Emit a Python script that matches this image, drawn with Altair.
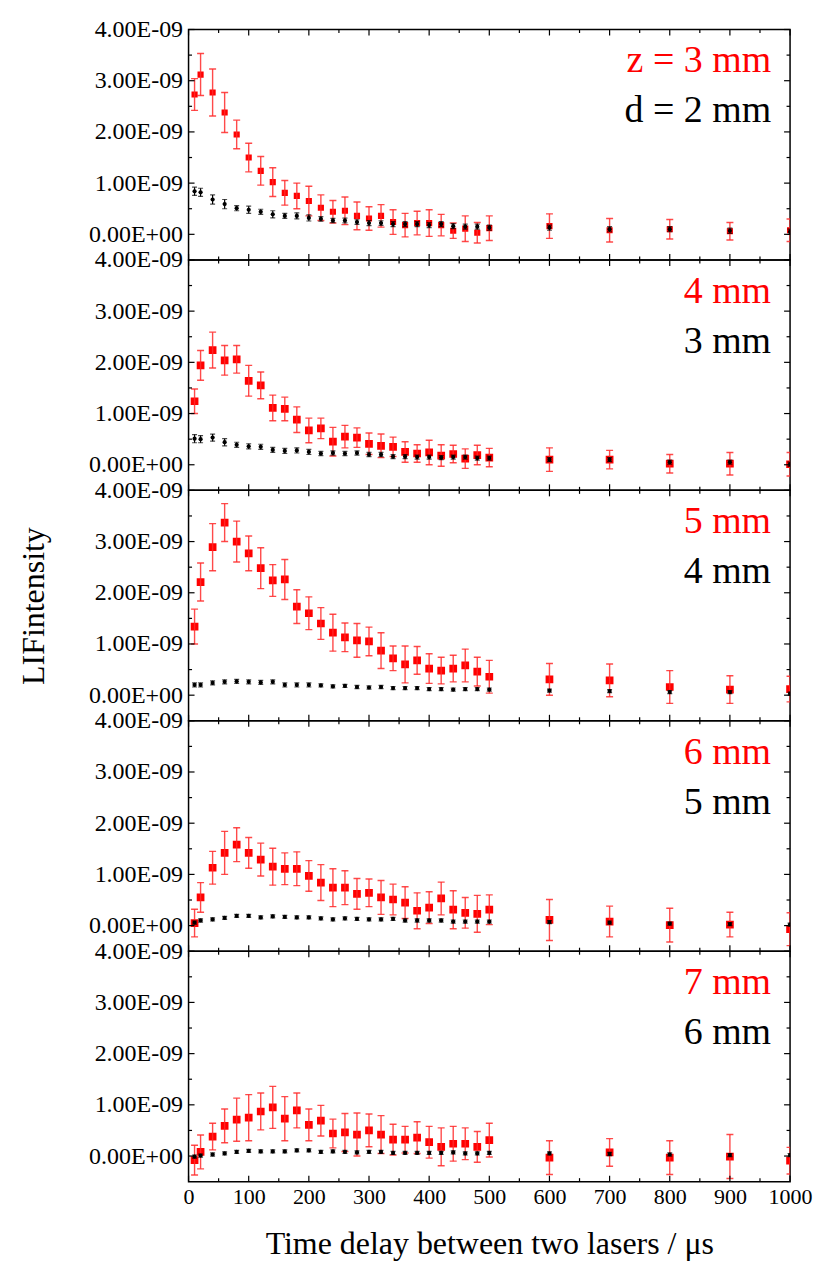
import altair as alt
import pandas as pd

# ---- data (intensity in units of 1E-09) ----
delay = [10, 20, 40, 60, 80, 100, 120, 140, 160, 180, 200, 220, 240, 260, 280,
         300, 320, 340, 360, 380, 400, 420, 440, 460, 480, 500, 600, 700, 800, 900, 1000]

red_labels = ["z = 3 mm", "4 mm", "5 mm", "6 mm", "7 mm"]
black_labels = ["d = 2 mm", "3 mm", "4 mm", "5 mm", "6 mm"]

red1 = [2.73, 3.12, 2.77, 2.38, 1.95, 1.50, 1.24, 1.02, 0.81, 0.75, 0.65, 0.52, 0.44, 0.46, 0.36,
        0.31, 0.36, 0.24, 0.18, 0.22, 0.22, 0.18, 0.07, 0.11, 0.03, 0.12, 0.16, 0.08, 0.10, 0.06, 0.08]
red1_err = [0.31, 0.41, 0.46, 0.39, 0.28, 0.28, 0.28, 0.28, 0.24, 0.25, 0.29, 0.25, 0.22, 0.27, 0.27,
            0.23, 0.22, 0.24, 0.23, 0.23, 0.26, 0.21, 0.15, 0.25, 0.20, 0.24, 0.24, 0.23, 0.19, 0.17, 0.22]
black1 = [0.84, 0.82, 0.68, 0.59, 0.51, 0.48, 0.44, 0.39, 0.36, 0.36, 0.32, 0.30, 0.27, 0.27, 0.24,
          0.22, 0.22, 0.20, 0.20, 0.20, 0.18, 0.20, 0.16, 0.15, 0.15, 0.13, 0.13, 0.10, 0.10, 0.07, 0.05]
black1_err = [0.08, 0.08, 0.09, 0.09, 0.05, 0.07, 0.05, 0.07, 0.05, 0.06, 0.06, 0.045, 0.04, 0.045, 0.045,
              0.05, 0.045, 0.05, 0.05, 0.05, 0.05, 0.05, 0.05, 0.05, 0.05, 0.05, 0.05, 0.05, 0.05, 0.05, 0.05]

red2 = [1.24, 1.94, 2.24, 2.04, 2.06, 1.64, 1.55, 1.11, 1.09, 0.88, 0.67, 0.71, 0.45, 0.55, 0.53,
        0.41, 0.37, 0.35, 0.25, 0.22, 0.24, 0.18, 0.21, 0.12, 0.19, 0.14, 0.10, 0.10, 0.02, 0.02, 0.01]
red2_err = [0.24, 0.29, 0.35, 0.29, 0.27, 0.30, 0.26, 0.25, 0.23, 0.25, 0.24, 0.20, 0.28, 0.22, 0.19,
            0.21, 0.23, 0.19, 0.20, 0.17, 0.24, 0.21, 0.17, 0.19, 0.19, 0.18, 0.23, 0.18, 0.18, 0.22, 0.23]
black2 = [0.51, 0.50, 0.53, 0.44, 0.39, 0.36, 0.35, 0.29, 0.27, 0.28, 0.25, 0.22, 0.23, 0.22, 0.23,
          0.20, 0.20, 0.16, 0.16, 0.15, 0.15, 0.14, 0.15, 0.15, 0.13, 0.13, 0.10, 0.10, 0.05, 0.05, 0.01]
black2_err = [0.08, 0.07, 0.07, 0.07, 0.05, 0.05, 0.05, 0.05, 0.05, 0.05, 0.05, 0.04, 0.04, 0.04, 0.04,
              0.04, 0.04, 0.04, 0.04, 0.04, 0.04, 0.04, 0.04, 0.04, 0.04, 0.04, 0.04, 0.04, 0.04, 0.04, 0.04]

red3 = [1.34, 2.21, 2.89, 3.37, 3.00, 2.77, 2.48, 2.24, 2.26, 1.73, 1.60, 1.40, 1.22, 1.13, 1.07,
        1.05, 0.87, 0.72, 0.60, 0.68, 0.52, 0.48, 0.52, 0.58, 0.46, 0.36, 0.31, 0.29, 0.16, 0.11, 0.12]
red3_err = [0.34, 0.37, 0.46, 0.37, 0.40, 0.34, 0.40, 0.31, 0.39, 0.33, 0.32, 0.31, 0.36, 0.28, 0.33,
            0.28, 0.35, 0.24, 0.36, 0.27, 0.29, 0.26, 0.26, 0.32, 0.28, 0.32, 0.31, 0.32, 0.32, 0.27, 0.25]
black3 = [0.20, 0.20, 0.24, 0.26, 0.27, 0.26, 0.25, 0.26, 0.20, 0.20, 0.20, 0.19, 0.17, 0.18, 0.16,
          0.15, 0.16, 0.14, 0.14, 0.14, 0.12, 0.12, 0.11, 0.12, 0.12, 0.11, 0.09, 0.08, 0.06, 0.06, 0.03]
black3_err = [0.04, 0.04, 0.04, 0.04, 0.04, 0.04, 0.04, 0.04, 0.04, 0.04, 0.04, 0.03, 0.03, 0.03, 0.03,
              0.03, 0.03, 0.03, 0.03, 0.03, 0.03, 0.03, 0.03, 0.03, 0.03, 0.03, 0.03, 0.03, 0.03, 0.03, 0.03]

red4 = [0.05, 0.55, 1.13, 1.42, 1.58, 1.42, 1.29, 1.15, 1.11, 1.11, 0.97, 0.84, 0.74, 0.74, 0.62,
        0.64, 0.55, 0.51, 0.45, 0.29, 0.35, 0.53, 0.31, 0.25, 0.23, 0.31, 0.11, 0.08, 0.01, 0.02, -0.07]
red4_err = [0.27, 0.29, 0.32, 0.42, 0.33, 0.30, 0.32, 0.36, 0.31, 0.33, 0.30, 0.35, 0.37, 0.33, 0.30,
            0.27, 0.33, 0.30, 0.31, 0.35, 0.31, 0.32, 0.37, 0.30, 0.36, 0.29, 0.40, 0.30, 0.33, 0.24, 0.32]
black4 = [0.06, 0.10, 0.12, 0.15, 0.19, 0.19, 0.16, 0.18, 0.17, 0.16, 0.16, 0.14, 0.12, 0.14, 0.13,
          0.12, 0.12, 0.13, 0.10, 0.10, 0.10, 0.10, 0.08, 0.08, 0.08, 0.08, 0.07, 0.06, 0.04, 0.03, 0.02]
black4_err = [0.03, 0.03, 0.03, 0.03, 0.03, 0.03, 0.03, 0.03, 0.03, 0.03, 0.03, 0.03, 0.03, 0.03, 0.03,
              0.03, 0.03, 0.03, 0.03, 0.03, 0.03, 0.03, 0.03, 0.03, 0.03, 0.03, 0.03, 0.03, 0.03, 0.03, 0.03]

red5 = [-0.08, 0.08, 0.38, 0.59, 0.71, 0.75, 0.87, 0.95, 0.73, 0.89, 0.61, 0.69, 0.44, 0.46, 0.42,
        0.50, 0.42, 0.32, 0.32, 0.36, 0.27, 0.18, 0.24, 0.24, 0.18, 0.31, -0.03, 0.07, -0.03, -0.01, -0.09]
red5_err = [0.29, 0.33, 0.26, 0.33, 0.42, 0.45, 0.36, 0.41, 0.43, 0.34, 0.31, 0.30, 0.28, 0.37, 0.42,
            0.32, 0.37, 0.30, 0.26, 0.31, 0.31, 0.37, 0.34, 0.31, 0.30, 0.33, 0.33, 0.27, 0.33, 0.43, 0.26]
black5 = [-0.01, 0.01, 0.03, 0.05, 0.08, 0.10, 0.09, 0.09, 0.09, 0.11, 0.11, 0.08, 0.09, 0.08, 0.07,
          0.08, 0.08, 0.06, 0.06, 0.06, 0.06, 0.06, 0.07, 0.05, 0.05, 0.06, 0.05, 0.04, 0.03, 0.02, 0.02]
black5_err = [0.03, 0.03, 0.03, 0.03, 0.03, 0.03, 0.03, 0.03, 0.03, 0.03, 0.03, 0.03, 0.03, 0.03, 0.03,
              0.03, 0.03, 0.03, 0.03, 0.03, 0.03, 0.03, 0.03, 0.03, 0.03, 0.03, 0.03, 0.03, 0.03, 0.03, 0.03]

red_series = [red1, red2, red3, red4, red5]
red_errs = [red1_err, red2_err, red3_err, red4_err, red5_err]
black_series = [black1, black2, black3, black4, black5]
black_errs = [black1_err, black2_err, black3_err, black4_err, black5_err]

x_major = [0, 100, 200, 300, 400, 500, 600, 700, 800, 900, 1000]
x_minor = [50, 150, 250, 350, 450, 550, 650, 750, 850, 950]
y_major = [0, 1, 2, 3, 4]
y_minor = [0.5, 1.5, 2.5, 3.5]

# ---- styling ----
W, H = 603, 231
FONT = "Liberation Serif"
RED = "#ff0000"
RED_ERR = "#ff2a2a"
XDOM = [0, 1000]
YDOM = [-0.5, 4]
MAJ, MIN = 6, 3.5
U = alt.Undefined


def xs():
    return alt.Scale(domain=XDOM, nice=False, zero=False)


def ys():
    return alt.Scale(domain=YDOM, nice=False, zero=False)


def panel(i):
    df = pd.DataFrame({
        "delay": delay,
        "red": red_series[i],
        "red_err": red_errs[i],
        "black": black_series[i],
        "black_err": black_errs[i],
    })
    df["red_lo"] = df["red"] - df["red_err"]
    df["red_hi"] = df["red"] + df["red_err"]
    df["black_lo"] = df["black"] - df["black_err"]
    df["black_hi"] = df["black"] + df["black_err"]
    base = alt.Chart(df)

    if i == 4:
        x_axis_main = alt.Axis(values=x_major, format="d", labelFlush=False, ticks=False, domain=False,
                               grid=False, labelFontSize=22, labelPadding=5,
                               titleFontSize=32, titlePadding=21)
        x_title = "Time delay between two lasers / μs"
        x_axis_other = U
    else:
        x_axis_main = None
        x_title = None
        x_axis_other = None

    y_axis = alt.Axis(values=y_major, ticks=False, domain=False, grid=False,
                      labelFontSize=24, labelPadding=6,
                      labelExpr="format(datum.value, '.2f') + (datum.value == 0 ? 'E+00' : 'E-09')",
                      titleFontSize=32, titlePadding=38)
    y_title = "LIFintensity" if i == 2 else None

    def X(field):
        return alt.X(field, type="quantitative", scale=xs(), axis=x_axis_other)

    def Y(field):
        return alt.Y(field, type="quantitative", scale=ys())

    sq = 38 if i == 0 else 60

    red_pts = base.mark_point(shape="square", filled=True, size=sq, color=RED, opacity=1, clip=True).encode(
        x=alt.X("delay:Q", scale=xs(), axis=x_axis_main, title=x_title),
        y=alt.Y("red:Q", scale=ys(), axis=y_axis, title=y_title),
    )
    red_bar = base.mark_rule(color=RED_ERR, strokeWidth=1.4, opacity=0.85, clip=True).encode(
        x=X("delay"), y=Y("red_lo"), y2="red_hi:Q",
    )
    red_cap_lo = base.mark_tick(orient="horizontal", size=7, thickness=1.4, color=RED_ERR,
                                opacity=0.85, clip=True).encode(x=X("delay"), y=Y("red_lo"))
    red_cap_hi = base.mark_tick(orient="horizontal", size=7, thickness=1.4, color=RED_ERR,
                                opacity=0.85, clip=True).encode(x=X("delay"), y=Y("red_hi"))
    blk_bar = base.mark_rule(color="black", strokeWidth=1.2, clip=True).encode(
        x=X("delay"), y=Y("black_lo"), y2="black_hi:Q",
    )
    blk_cap_lo = base.mark_tick(orient="horizontal", size=5, thickness=1.2, color="black",
                                clip=True).encode(x=X("delay"), y=Y("black_lo"))
    blk_cap_hi = base.mark_tick(orient="horizontal", size=5, thickness=1.2, color="black",
                                clip=True).encode(x=X("delay"), y=Y("black_hi"))
    blk_pts = base.mark_point(shape="circle", filled=True, size=18, color="black", opacity=1,
                              clip=True).encode(x=X("delay"), y=Y("black"))

    # inward ticks
    def xticks(vals, length):
        d = alt.Chart(pd.DataFrame({"t": vals}))
        bot = d.mark_rule(color="black", strokeWidth=1.2).encode(
            x=X("t"), y=alt.value(H), y2=alt.value(H - length))
        top = d.mark_rule(color="black", strokeWidth=1.2).encode(
            x=X("t"), y=alt.value(0), y2=alt.value(length))
        return [bot, top]

    def yticks(vals, length):
        d = alt.Chart(pd.DataFrame({"t": vals}))
        left = d.mark_rule(color="black", strokeWidth=1.2).encode(
            y=Y("t"), x=alt.value(0), x2=alt.value(length))
        right = d.mark_rule(color="black", strokeWidth=1.2).encode(
            y=Y("t"), x=alt.value(W), x2=alt.value(W - length))
        return [left, right]

    ticks = xticks(x_major, MAJ) + xticks(x_minor, MIN) + yticks(y_major, MAJ) + yticks(y_minor, MIN)

    lab_df = pd.DataFrame({"red_lab": [red_labels[i]], "black_lab": [black_labels[i]]})
    red_txt = alt.Chart(lab_df).mark_text(align="right", baseline="alphabetic", font=FONT,
                                          fontSize=38, color=RED).encode(
        x=alt.value(W - 19), y=alt.value(43), text="red_lab:N")
    blk_txt = alt.Chart(lab_df).mark_text(align="right", baseline="alphabetic", font=FONT,
                                          fontSize=38, color="black").encode(
        x=alt.value(W - 19), y=alt.value(93), text="black_lab:N")

    return alt.layer(red_pts, red_bar, red_cap_lo, red_cap_hi, blk_bar, blk_cap_lo, blk_cap_hi,
                     blk_pts, *ticks, red_txt, blk_txt).properties(width=W, height=H)


chart = alt.vconcat(*[panel(i) for i in range(5)], spacing=0, bounds="flush").properties(
    padding={"left": 9, "top": 7, "right": 0, "bottom": 0}
).configure_view(
    stroke="black", strokeWidth=1.5
).configure_axis(
    labelFont=FONT, titleFont=FONT, labelColor="black", titleColor="black", titleFontWeight="normal"
)

chart.save("out.html", embed_options={"renderer": "svg", "actions": False})
